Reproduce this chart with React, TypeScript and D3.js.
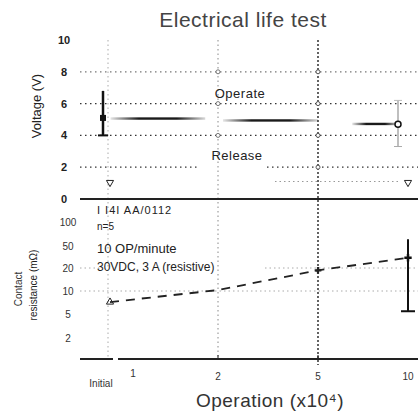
import React from "react";
import * as d3 from "d3";

const xCats = [0, 1, 2, 5, 10];
const xTickLabels = ["Initial", "1", "2", "5", "10"];
const vTicks = [0, 2, 4, 6, 8, 10];
const rTicks = [100, 50, 20, 10, 5, 2];
const rTickLabels = ["100", "50", "20", "10", "5", "2"];

// Operate voltage
const opX = [0, 10];
const opMean = [5.1, 4.7];
const opMin = [4.0, 3.3];
const opMax = [6.8, 6.2];
const opSegStart = [0.1, 2.15, 6.9];
const opSegEnd = [1.85, 5.0, 9.5];
const opSegVal = [5.06, 4.94, 4.72];
// Release voltage
const relVal = [1.1, 1.1];

// Contact resistance
const crX = [0, 2, 5, 10];
const crMean = [7.6, 10.4, 19, 34];
const crErrMin = 5.6;
const crErrMax = 64;

const annot = ["I  I4I  AA/0112", "n=5", "10 OP/minute", "30VDC, 3 A (resistive)"];

export default function App() {
  const W = 418, H = 413;
  const left = 80, right = 418;
  const x = d3.scaleLinear().domain(xCats).range([108, 133, 218, 318, 408]);
  const yV = d3.scaleLinear().domain([0, 10]).range([199, 40]);
  const yR = d3.scaleLinear().domain([...rTicks, 1]).range([222, 246, 268, 291, 314, 338, 360]);
  const font = "'Liberation Sans', Arial, sans-serif";

  const dashedPts = crX.map((v, i) => [x(v) + (i === 0 ? 2 : 0), yR(crMean[i])] as [number, number]);
  const line = d3.line();

  const tri = d3.symbol().type(d3.symbolTriangle).size(22)();

  return (
    <svg width={W} height={H} style={{ position: "absolute", left: 0, top: 0, background: "#fff" }} fontFamily={font}>
      <defs>
        <linearGradient id="seg" x1="0" x2="1" y1="0" y2="0">
          <stop offset="0" stopColor="#000" stopOpacity="0.1" />
          <stop offset="0.3" stopColor="#000" stopOpacity="0.9" />
          <stop offset="0.7" stopColor="#000" stopOpacity="0.9" />
          <stop offset="1" stopColor="#000" stopOpacity="0.15" />
        </linearGradient>
      </defs>
      <text x={243} y={27} textAnchor="middle" fontSize={21} letterSpacing={0.5} fill="#444">Electrical life test</text>

      {/* vertical grid */}
      <line x1={x(0)} x2={x(0)} y1={40} y2={358} stroke="#aaa" strokeDasharray="1.5,3" />
      <line x1={x(2)} x2={x(2)} y1={40} y2={358} stroke="#888" strokeDasharray="1.5,3" />
      <line x1={x(5)} x2={x(5)} y1={40} y2={365} stroke="#222" strokeWidth={1.4} strokeDasharray="2,2" />

      {/* top horizontal grid */}
      {[8, 6, 4].map((v) => (
        <line key={v} x1={left} x2={right} y1={yV(v)} y2={yV(v)} stroke={v === 8 ? "#777" : "#333"} strokeWidth={1.2} strokeDasharray="1.5,3.5" />
      ))}
      <line x1={left} x2={200} y1={yV(2)} y2={yV(2)} stroke="#333" strokeWidth={1.2} strokeDasharray="1.5,3.5" />
      <line x1={267} x2={right} y1={yV(2)} y2={yV(2)} stroke="#333" strokeWidth={1.2} strokeDasharray="1.5,3.5" />
      <line x1={275} x2={400} y1={yV(relVal[1])} y2={yV(relVal[1])} stroke="#999" strokeWidth={1.2} strokeDasharray="1.5,3" />

      {[8, 6, 4].map((v) => (
        <circle key={"c2" + v} cx={x(2)} cy={yV(v)} r={2} fill="#fff" stroke="#777" />
      ))}
      {[8, 6, 4, 2].map((v) => (
        <circle key={"c5" + v} cx={x(5)} cy={yV(v)} r={2} fill="#fff" stroke="#555" />
      ))}

      {/* y axis top labels */}
      {vTicks.map((v) => (
        <text key={v} x={64} y={yV(v) + 4} textAnchor="middle" fontSize={11} fontWeight="bold" fill="#222">{v}</text>
      ))}
      <text transform={`translate(41,${106}) rotate(-90)`} textAnchor="middle" fontSize={13} fill="#222">Voltage (V)</text>

      {/* Operate segments */}
      {opSegStart.map((s, i) => (
        <rect key={i} x={x(s)} y={yV(opSegVal[i]) - 1.2} width={x(opSegEnd[i]) - x(s)} height={2.4} fill="url(#seg)" />
      ))}
      {/* Operate error bars */}
      <line x1={x(opX[0]) - 5} x2={x(opX[0]) - 5} y1={yV(opMax[0])} y2={yV(opMin[0])} stroke="#111" strokeWidth={2.5} />
      <line x1={x(opX[0]) - 10} x2={x(opX[0])} y1={yV(opMin[0])} y2={yV(opMin[0])} stroke="#111" strokeWidth={2} />
      <rect x={x(opX[0]) - 8} y={yV(opMean[0]) - 3} width={6} height={6} fill="#111" />
      <line x1={x(opX[1]) - 10} x2={x(opX[1]) - 10} y1={yV(opMax[1])} y2={yV(opMin[1])} stroke="#aaa" strokeWidth={1.5} />
      <line x1={x(opX[1]) - 14} x2={x(opX[1]) - 6} y1={yV(opMax[1])} y2={yV(opMax[1])} stroke="#bbb" />
      <line x1={x(opX[1]) - 14} x2={x(opX[1]) - 6} y1={yV(opMin[1])} y2={yV(opMin[1])} stroke="#aaa" />
      <circle cx={x(opX[1]) - 10} cy={yV(opMean[1])} r={3} fill="#fff" stroke="#111" strokeWidth={1.5} />

      <text x={240} y={98} textAnchor="middle" fontSize={13} letterSpacing={0.5} fill="#222">Operate</text>
      <text x={237} y={160} textAnchor="middle" fontSize={13} letterSpacing={0.5} fill="#222">Release</text>

      {/* Release markers */}
      <path d={tri} transform={`translate(${x(0) + 2},${yV(relVal[0]) + 1}) rotate(180)`} fill="none" stroke="#222" />
      <path d={tri} transform={`translate(${x(10)},${yV(relVal[1]) + 1}) rotate(180)`} fill="none" stroke="#222" />

      {/* zero line / shared axis */}
      <line x1={left} x2={right} y1={199} y2={199} stroke="#222" strokeWidth={2} />

      {/* bottom panel grid */}
      <line x1={left} x2={100} y1={yR(20)} y2={yR(20)} stroke="#aaa" strokeDasharray="1.5,3" />
      <line x1={265} x2={right} y1={yR(20)} y2={yR(20)} stroke="#aaa" strokeDasharray="1.5,3" />
      <line x1={left} x2={right} y1={yR(10)} y2={yR(10)} stroke="#aaa" strokeDasharray="1.5,3" />

      {annot.map((t, i) => (
        <text key={i} x={97} y={[214, 230, 253, 271][i]} fontSize={[11, 10, 13, 12][i]} letterSpacing={i === 0 ? 1 : 0} fill="#222">{t}</text>
      ))}

      {rTicks.map((v, i) => (
        <text key={v} x={68} y={yR(v) + 4} textAnchor="middle" fontSize={10} fill="#333">{rTickLabels[i]}</text>
      ))}
      <text transform={`translate(22,${289}) rotate(-90)`} textAnchor="middle" fontSize={10} fill="#333">Contact</text>
      <text transform={`translate(37,${285}) rotate(-90)`} textAnchor="middle" fontSize={10} fill="#222">resistance (mΩ)</text>

      <path d={line(dashedPts) || ""} fill="none" stroke="#222" strokeWidth={1.8} strokeDasharray="9,7" />
      <path d={tri} transform={`translate(${dashedPts[0][0]},${dashedPts[0][1]})`} fill="none" stroke="#222" />
      <path d={d3.symbol().type(d3.symbolCross).size(25)() || ""} transform={`translate(${x(5)},${yR(crMean[2])})`} fill="#222" />
      <line x1={x(10)} x2={x(10)} y1={yR(crErrMax)} y2={yR(crErrMin)} stroke="#111" strokeWidth={2} />
      <line x1={x(10) - 7} x2={x(10) + 7} y1={yR(crErrMin)} y2={yR(crErrMin)} stroke="#111" strokeWidth={2} />
      <path d={d3.symbol().type(d3.symbolCross).size(30)() || ""} transform={`translate(${x(10)},${yR(crMean[3])})`} fill="#111" />

      {/* bottom axis */}
      <line x1={left} x2={113} y1={359} y2={359} stroke="#222" strokeWidth={2} />
      <line x1={118} x2={right} y1={359} y2={359} stroke="#222" strokeWidth={2} />
      {[2, 5].map((v) => (
        <line key={v} x1={x(v)} x2={x(v)} y1={355} y2={359} stroke="#222" />
      ))}
      <text x={x(0) - 7} y={387} textAnchor="middle" fontSize={10} fill="#333">{xTickLabels[0]}</text>
      {[1, 2, 3, 4].map((i) => (
        <text key={i} x={x(xCats[i])} y={i === 1 ? 377 : 380} textAnchor="middle" fontSize={10} fill="#333">{xTickLabels[i]}</text>
      ))}
      <text x={270} y={407} textAnchor="middle" fontSize={19} letterSpacing={0.5} fill="#333">Operation (x10⁴)</text>
    </svg>
  );
}
